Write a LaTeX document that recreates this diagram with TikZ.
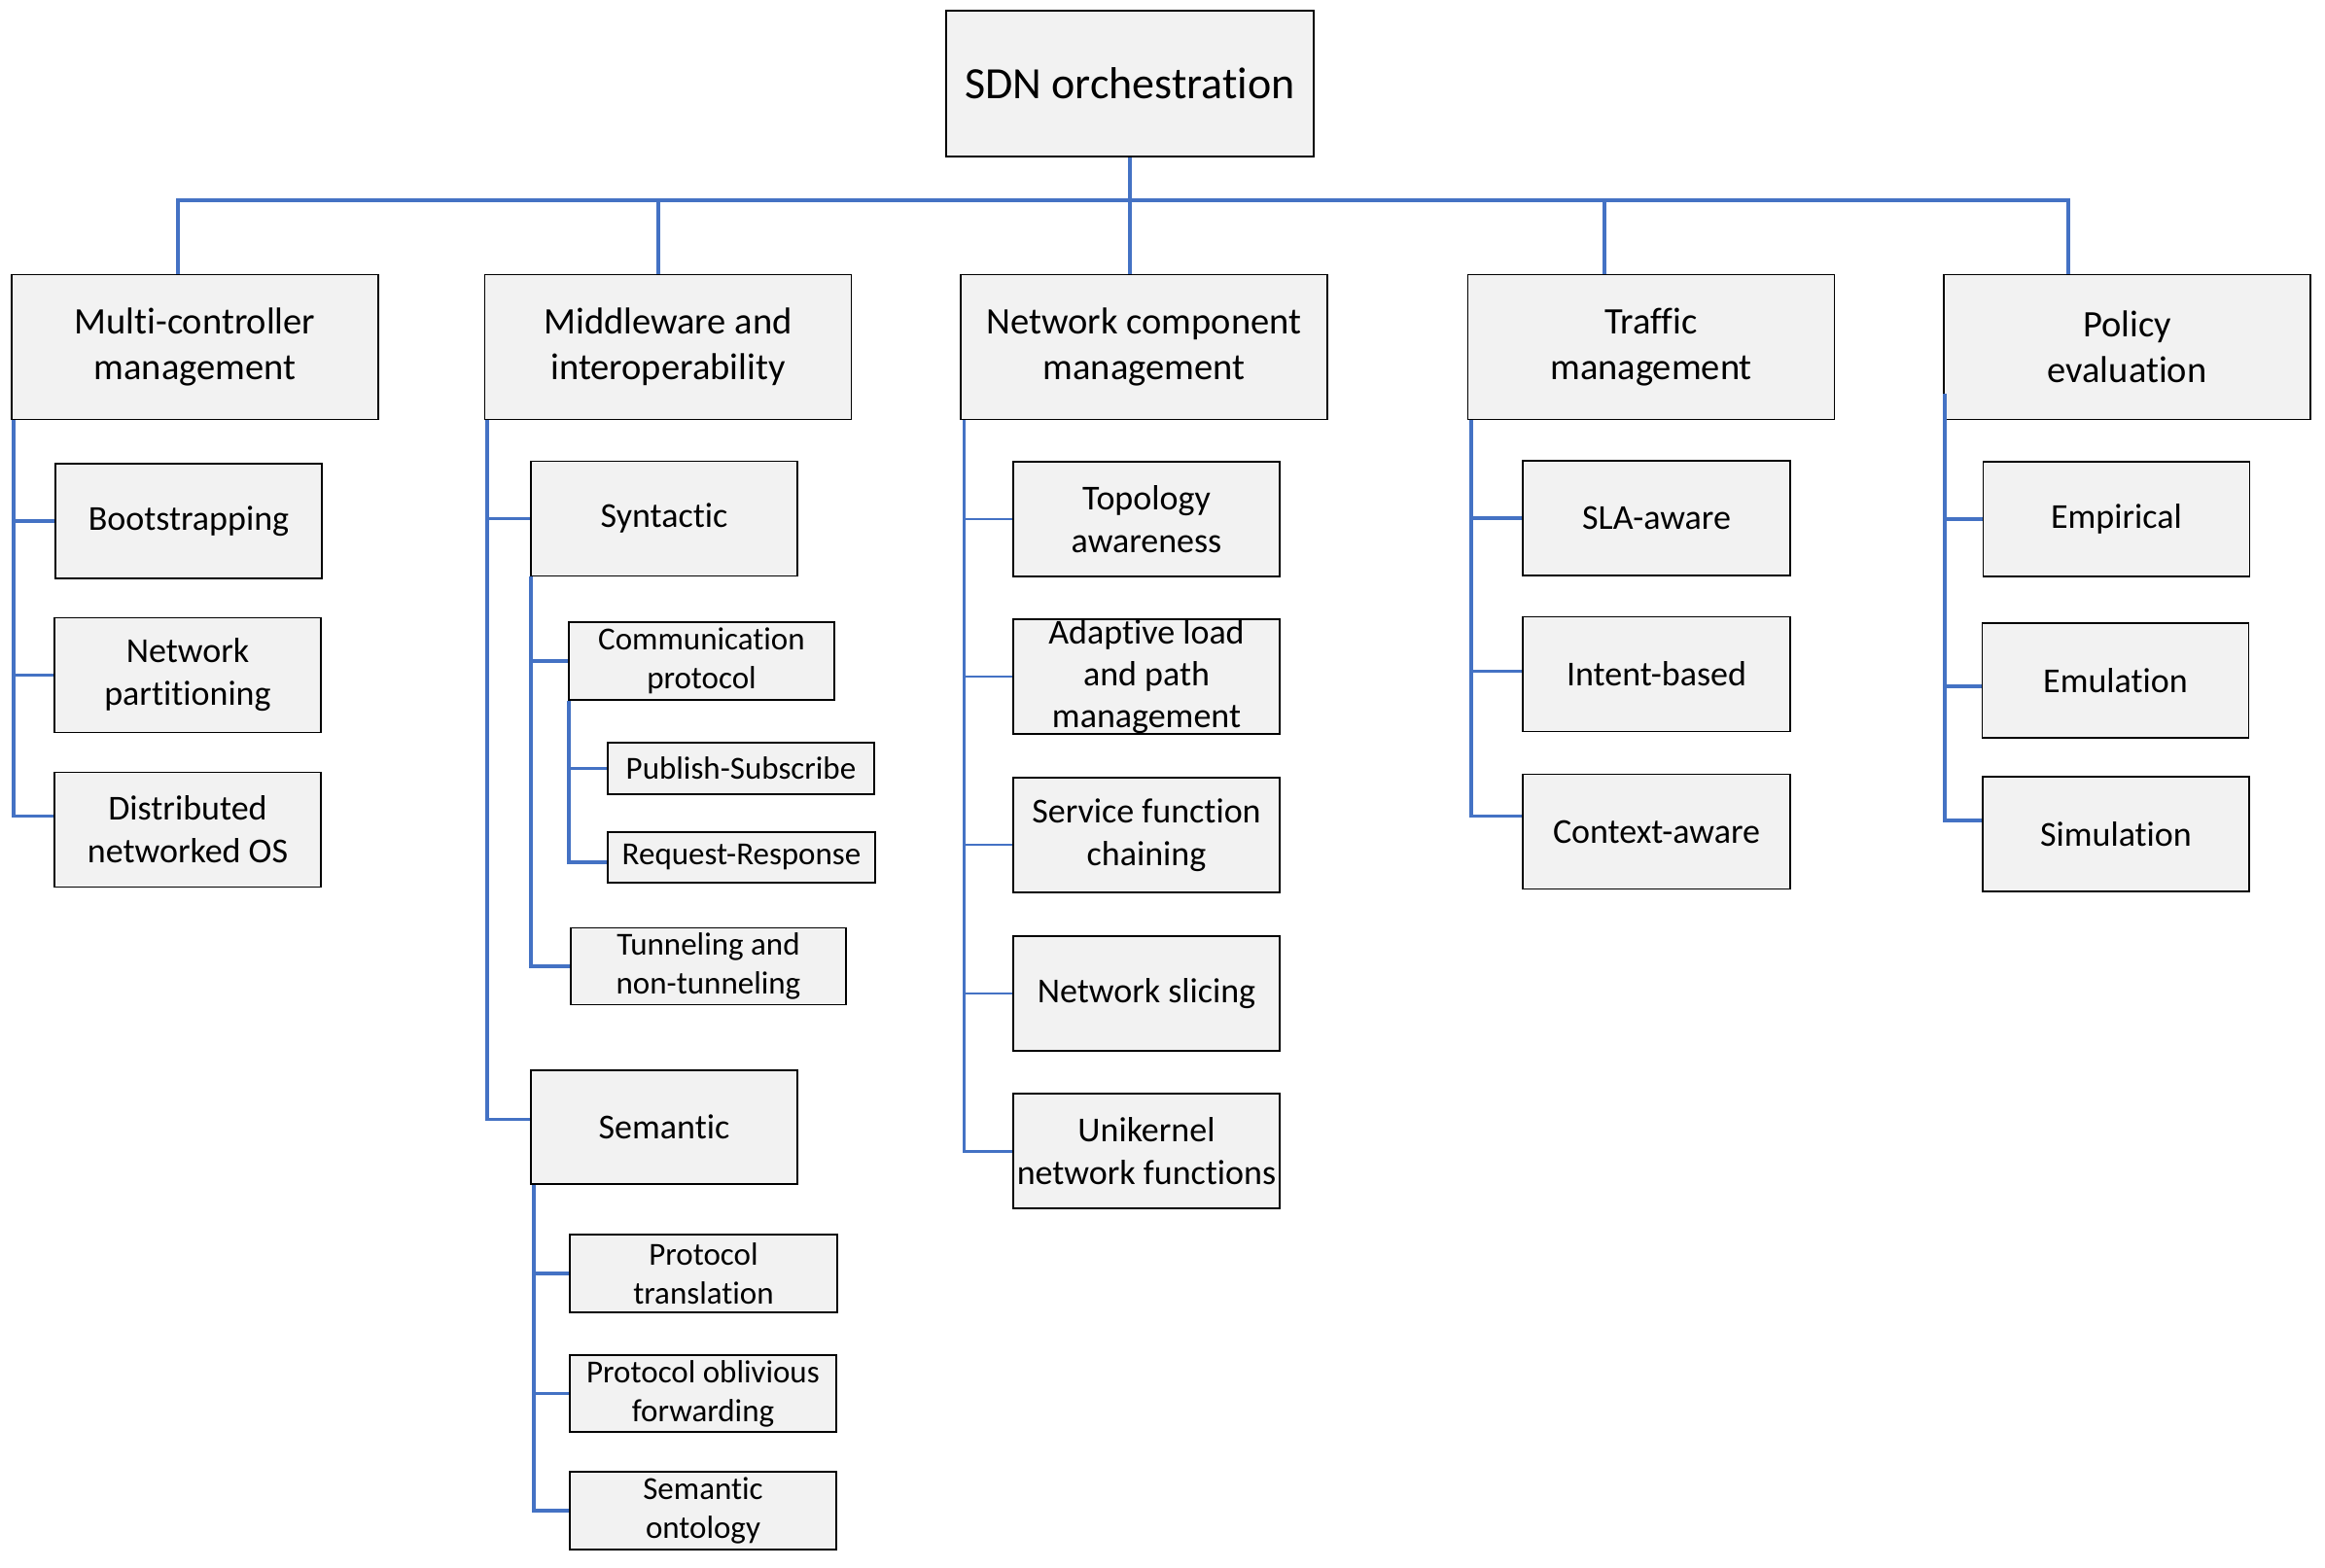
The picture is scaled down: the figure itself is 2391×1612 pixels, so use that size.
\documentclass[tikz,border=0pt]{standalone}
\usepackage{fontspec}
\setmainfont{Carlito}[Ligatures=NoCommon]
\usetikzlibrary{calc}
\definecolor{boxfill}{HTML}{F2F2F2}
\definecolor{linkblue}{HTML}{4472C4}
\newcommand\fzroot{\fontsize{46}{56}\selectfont}
\newcommand\fzone{\fontsize{38.5}{47}\selectfont}
\newcommand\fztwo{\fontsize{36}{44}\selectfont}
\newcommand\fzthree{\fontsize{33}{40}\selectfont}
\tikzset{
  box/.style={draw=black, line width=1.6pt, fill=boxfill, inner sep=0pt, align=center},
  rootbox/.style={box, font=\fzroot, minimum width=378pt, minimum height=150pt},
  lvone/.style={box, font=\fzone, minimum width=377pt, minimum height=149pt},
  lvtwo/.style={box, font=\fztwo, minimum width=274pt, minimum height=118pt},
  lvthree/.style={box, font=\fzthree},
  conn/.style={draw=linkblue, line width=3.8pt},
  thinconn/.style={draw=linkblue, line width=2.6pt}
}
\begin{document}
\begin{tikzpicture}[x=1pt, y=-1pt]
\useasboundingbox (0,0) rectangle (2391,1612);

% root and first level
\node[rootbox] (root) at (1162,86) {SDN orchestration};
\node[lvone] (mc) at (200.5,357) {Multi-controller\\management};
\node[lvone] (mw) at (687,357) {Middleware and\\interoperability};
\node[lvone] (nc) at (1176.5,357) {Network component\\management};
\node[lvone] (tm) at (1698,357) {Traffic\\management};
\node[lvone] (pe) at (2187.5,357) {Policy\\evaluation};

% multi-controller children
\node[lvtwo] (boot) at (194,536) {Bootstrapping};
\node[lvtwo] (np) at (193,694.5) {Network\\partitioning};
\node[lvtwo] (dos) at (193,853.5) {Distributed\\networked OS};

% middleware children
\node[lvtwo] (syn) at (683,533.5) {Syntactic};
\node[lvthree, minimum width=273pt, minimum height=80pt] (comm) at (721.5,680) {Communication\\protocol};
\node[lvthree, minimum width=274pt, minimum height=53pt] (pub) at (762,790.5) {Publish-Subscribe};
\node[lvthree, minimum width=275pt, minimum height=52pt] (req) at (762.5,882) {Request-Response};
\node[lvthree, minimum width=283pt, minimum height=79pt] (tun) at (728.5,994) {Tunneling and\\non-tunneling};
\node[lvtwo, minimum height=117pt] (sem) at (683,1159.5) {Semantic};
\node[lvthree, minimum width=275pt, minimum height=80pt] (pt) at (723.5,1310) {Protocol\\translation};
\node[lvthree, minimum width=274pt, minimum height=79pt] (pof) at (723,1433.5) {Protocol oblivious\\forwarding};
\node[lvthree, minimum width=274pt, minimum height=80pt] (so) at (723,1554) {Semantic\\ontology};

% network component children
\node[lvtwo] (topo) at (1179,534) {Topology\\awareness};
\node[lvtwo, font={\fontsize{36}{43}\selectfont}] (adapt) at (1179,696) {Adaptive load\\and path\\management};
\node[lvtwo] (sfc) at (1179,859) {Service function\\chaining};
\node[lvtwo] (ns) at (1179,1022) {Network slicing};
\node[lvtwo] (uni) at (1179,1184) {Unikernel\\network functions};

% traffic children
\node[lvtwo, minimum width=275pt] (sla) at (1703.5,533) {SLA-aware};
\node[lvtwo, minimum width=275pt] (intent) at (1703.5,693.5) {Intent-based};
\node[lvtwo, minimum width=275pt] (ctx) at (1703.5,855.5) {Context-aware};

% policy children
\node[lvtwo] (emp) at (2176.5,534) {Empirical};
\node[lvtwo] (emu) at (2175.5,700) {Emulation};
\node[lvtwo] (sim) at (2176,858) {Simulation};

% top bus
\coordinate (busL) at (183,206);
\coordinate (busR) at (2127,206);
\coordinate (dmw) at (677,206);
\coordinate (dtm) at (1650,206);
\draw[conn] (busL |- mc.north) -- (busL) -- (busR) -- (busR |- pe.north);
\draw[conn] (root.south) -- (root.south |- nc.north);
\draw[conn] (dmw) -- (dmw |- mw.north);
\draw[conn] (dtm) -- (dtm |- tm.north);

% multi-controller column
\coordinate (xmc) at ([xshift=3pt]mc.south west);
\coordinate (dosin) at ([yshift=14pt]dos.west);
\draw[conn] (xmc) |- (dosin);
\draw[conn] (xmc |- boot.west) -- (boot.west);
\draw[conn] (xmc |- np.west) -- (np.west);

% middleware column
\coordinate (xmw) at ([xshift=3pt]mw.south west);
\coordinate (semin) at ([yshift=8pt]sem.west);
\draw[conn] (xmw) |- (semin);
\draw[conn] (xmw |- syn.west) -- (syn.west);

% syntactic column
\coordinate (xsyn) at ([xshift=1pt]syn.south west);
\draw[conn] (xsyn) |- (tun.west);
\draw[conn] (xsyn |- comm.west) -- (comm.west);

% communication protocol column
\coordinate (xcomm) at ([xshift=1pt]comm.south west);
\coordinate (reqin) at ([yshift=-5pt]req.west);
\draw[conn] (xcomm) |- (reqin);
\draw[conn] (xcomm |- pub.west) -- (pub.west);

% semantic column
\coordinate (xsem) at ([xshift=4pt]sem.south west);
\draw[conn] (xsem) |- (so.west);
\draw[conn] (xsem |- pt.west) -- (pt.west);
\draw[conn] (xsem |- pof.west) -- (pof.west);

% network component column
\coordinate (xnc) at ([xshift=4pt]nc.south west);
\coordinate (sfcin) at ([yshift=-10pt]sfc.west);
\draw[thinconn, line width=3pt] (xnc) |- (uni.west);
\draw[thinconn] (xnc |- topo.west) -- (topo.west);
\draw[thinconn] (xnc |- adapt.west) -- (adapt.west);
\draw[thinconn] (xnc |- sfcin) -- (sfcin);
\draw[thinconn] (xnc |- ns.west) -- (ns.west);

% traffic column
\coordinate (xtm) at ([xshift=4pt]tm.south west);
\coordinate (ctxin) at ([yshift=16pt]ctx.west);
\coordinate (intin) at ([yshift=3pt]intent.west);
\draw[conn] (xtm) |- (ctxin);
\draw[conn] (xtm |- sla.west) -- (sla.west);
\draw[conn] (xtm |- intin) -- (intin);

% policy column
\coordinate (xpe) at ([xshift=2pt, yshift=27pt]pe.south west);
\coordinate (simin) at ([yshift=14pt]sim.west);
\coordinate (emuin) at ([yshift=-6pt]emu.west);
\draw[conn] (xpe) |- (simin);
\draw[conn] (xpe |- emp.west) -- (emp.west);
\draw[conn] (xpe |- emuin) -- (emuin);
\end{tikzpicture}
\end{document}
